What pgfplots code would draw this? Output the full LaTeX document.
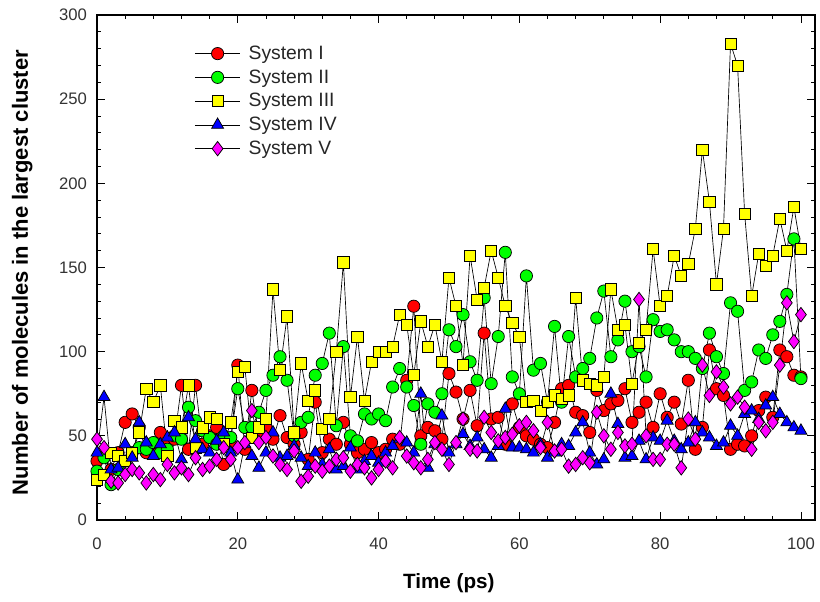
\documentclass[border=0pt]{standalone}
\usepackage{pgfplots}
\pgfplotsset{compat=1.18}
\usepackage{fontspec}
\setmainfont{Liberation Sans}
\definecolor{cI}{RGB}{255,0,0}
\definecolor{cII}{RGB}{0,255,0}
\definecolor{cIII}{RGB}{255,255,0}
\definecolor{cIV}{RGB}{0,0,255}
\definecolor{cV}{RGB}{255,0,255}
\begin{document}
\begin{tikzpicture}
\begin{axis}[
  scale only axis, width=538.5pt, height=378.75pt,
  xmin=0, xmax=102, ymin=0, ymax=300,
  xtick={0,20,40,60,80,100}, ytick={0,50,100,150,200,250,300},
  minor x tick num=4, minor y tick num=4,
  tick align=inside,
  major tick length=6pt, minor tick length=3pt,
  every tick/.style={black, line width=0.6pt},
  axis line style={line width=0.8pt},
  /pgf/number format/assume math mode=true,
  tick label style={font=\fontsize{12.5}{14}\selectfont, text=black!80},
  xticklabel style={yshift=-10pt},
  yticklabel style={xshift=-4pt},
  xlabel={\textbf{Time (ps)}},
  ylabel={\textbf{Number of molecules in the largest cluster}},
  xlabel style={font=\fontsize{15.5}{17}\selectfont, at={(axis description cs:0.49,-0.125)}, anchor=center},
  ylabel style={font=\fontsize{16.5}{18}\selectfont, at={(axis description cs:-0.104,0.49)}, anchor=center},
  legend style={draw=none, fill=none, at={(axis description cs:0.13,0.95)}, anchor=north west,
    font=\fontsize{14.5}{16}\selectfont, row sep=2.2pt, text=black!85,
    nodes={inner xsep=6pt}},
  legend cell align=left,
  legend image code/.code={\draw[mark repeat=2,mark phase=2] plot coordinates {(0pt,0pt) (17pt,0pt) (34pt,0pt)};},
  every axis plot/.append style={black, line width=0.5pt},
]
\addplot[mark=*, mark size=4.6pt, mark options={fill=cI, draw=black, line width=0.55pt}] coordinates {
(0,35)(1,38)(2,30)(3,40)(4,58)(5,63)(6,55)(7,40)(8,42)(9,52)(10,45)(11,48)(12,80)(13,42)(14,80)(15,45)(16,50)(17,55)(18,33)(19,45)(20,92)
(21,42)(22,77)(23,50)(24,55)(25,48)(26,62)(27,49)(28,45)(29,52)(30,36)(31,70)(32,40)(33,48)(34,45)(35,58)(36,45)(37,40)(38,42)(39,46)(40,40)
(41,42)(42,48)(43,45)(44,83)(45,127)(46,50)(47,55)(48,53)(49,48)(50,87)(51,76)(52,60)(53,77)(54,56)(55,111)(56,60)(57,61)(58,45)(59,69)(60,55)
(61,50)(62,48)(63,45)(64,43)(65,58)(66,78)(67,80)(68,64)(69,62)(70,52)(71,77)(72,65)(73,69)(74,71)(75,78)(76,58)(77,64)(78,70)(79,55)(80,75)
(81,61)(82,70)(83,57)(84,83)(85,42)(86,55)(87,101)(88,78)(89,74)(90,42)(91,45)(92,44)(93,50)(94,65)(95,73)(96,61)(97,101)(98,97)(99,86)(100,85)};
\addlegendentry{System I}
\addplot[mark=*, mark size=4.6pt, mark options={fill=cII, draw=black, line width=0.55pt}] coordinates {
(0,29)(1,37)(2,21)(3,30)(4,35)(5,40)(6,43)(7,42)(8,46)(9,40)(10,42)(11,50)(12,48)(13,67)(14,59)(15,53)(16,49)(17,45)(18,50)(19,49)(20,78)
(21,55)(22,55)(23,64)(24,77)(25,86)(26,97)(27,83)(28,50)(29,58)(30,61)(31,86)(32,93)(33,111)(34,56)(35,103)(36,50)(37,47)(38,63)(39,60)(40,63)
(41,59)(42,79)(43,90)(44,79)(45,68)(46,45)(47,69)(48,64)(49,75)(50,113)(51,103)(52,122)(53,94)(54,83)(55,132)(56,81)(57,109)(58,159)(59,85)(60,75)
(61,145)(62,89)(63,93)(64,70)(65,115)(66,70)(67,109)(68,85)(69,90)(70,96)(71,120)(72,136)(73,97)(74,107)(75,130)(76,100)(77,103)(78,85)(79,119)(80,112)
(81,113)(82,107)(83,100)(84,100)(85,96)(86,90)(87,111)(88,97)(89,87)(90,129)(91,124)(92,77)(93,82)(94,101)(95,96)(96,110)(97,118)(98,134)(99,167)(100,84)};
\addlegendentry{System II}
\addplot[mark=square*, mark size=4.2pt, mark options={fill=cIII, draw=black, line width=0.55pt}] coordinates {
(0,24)(1,27)(2,40)(3,38)(4,35)(5,40)(6,52)(7,78)(8,70)(9,80)(10,38)(11,59)(12,55)(13,80)(14,43)(15,55)(16,61)(17,60)(18,45)(19,58)(20,88)
(21,91)(22,49)(23,55)(24,60)(25,137)(26,89)(27,121)(28,52)(29,93)(30,71)(31,77)(32,54)(33,60)(34,100)(35,153)(36,73)(37,109)(38,71)(39,94)(40,100)
(41,100)(42,103)(43,122)(44,116)(45,86)(46,118)(47,103)(48,116)(49,94)(50,144)(51,127)(52,92)(53,157)(54,131)(55,138)(56,160)(57,144)(58,127)(59,117)(60,109)
(61,70)(62,71)(63,65)(64,70)(65,74)(66,72)(67,74)(68,132)(69,83)(70,81)(71,80)(72,85)(73,137)(74,113)(75,116)(76,81)(77,105)(78,113)(79,161)(80,127)
(81,133)(82,157)(83,145)(84,152)(85,173)(86,220)(87,189)(88,140)(89,173)(90,283)(91,270)(92,182)(93,133)(94,158)(95,151)(96,157)(97,179)(98,160)(99,186)(100,161)};
\addlegendentry{System III}
\addplot[mark=triangle*, mark size=5.2pt, mark options={fill=cIV, draw=black, line width=0.55pt}] coordinates {
(0,40)(1,73)(2,30)(3,31)(4,45)(5,37)(6,58)(7,46)(8,38)(9,45)(10,49)(11,52)(12,36)(13,61)(14,48)(15,42)(16,40)(17,47)(18,52)(19,40)(20,24)
(21,45)(22,38)(23,31)(24,40)(25,52)(26,37)(27,38)(28,44)(29,37)(30,32)(31,40)(32,33)(33,42)(34,30)(35,32)(36,43)(37,30)(38,35)(39,38)(40,34)
(41,40)(42,44)(43,48)(44,46)(45,40)(46,75)(47,31)(48,45)(49,62)(50,40)(51,45)(52,51)(53,44)(54,49)(55,42)(56,37)(57,44)(58,66)(59,43)(60,43)
(61,42)(62,40)(63,45)(64,37)(65,40)(66,45)(67,44)(68,52)(69,58)(70,40)(71,33)(72,36)(73,75)(74,57)(75,37)(76,38)(77,47)(78,36)(79,49)(80,47)
(81,59)(82,47)(83,42)(84,46)(85,58)(86,52)(87,49)(88,44)(89,46)(90,56)(91,50)(92,63)(93,65)(94,60)(95,68)(96,73)(97,63)(98,58)(99,55)(100,53)};
\addlegendentry{System IV}
\addplot[mark=diamond*, mark size=5.4pt, mark options={fill=cV, draw=black, line width=0.55pt}] coordinates {
(0,48)(1,43)(2,23)(3,22)(4,27)(5,30)(6,28)(7,22)(8,27)(9,24)(10,33)(11,28)(12,31)(13,27)(14,37)(15,30)(16,32)(17,36)(18,43)(19,36)(20,43)
(21,46)(22,65)(23,46)(24,49)(25,38)(26,33)(27,30)(28,41)(29,23)(30,26)(31,32)(32,29)(33,32)(34,36)(35,37)(36,29)(37,33)(38,31)(39,25)(40,30)
(41,35)(42,31)(43,49)(44,38)(45,34)(46,31)(47,36)(48,46)(49,42)(50,33)(51,46)(52,60)(53,42)(54,41)(55,61)(56,52)(57,47)(58,49)(59,51)(60,56)
(61,58)(62,53)(63,43)(64,58)(65,41)(66,42)(67,32)(68,33)(69,37)(70,34)(71,64)(72,50)(73,42)(74,52)(75,44)(76,45)(77,131)(78,50)(79,36)(80,36)
(81,45)(82,45)(83,31)(84,60)(85,48)(86,92)(87,74)(88,88)(89,79)(90,69)(91,73)(92,67)(93,42)(94,58)(95,53)(96,58)(97,92)(98,129)(99,106)(100,122)};
\addlegendentry{System V}
\end{axis}
\path (current axis.south west) ++(-72.75pt,-61.5pt) coordinate (bl);
\path (current axis.north east) ++(3.75pt,11.25pt) coordinate (tr);
\pgfresetboundingbox
\path[use as bounding box] (bl) rectangle (tr);
\end{tikzpicture}
\end{document}
